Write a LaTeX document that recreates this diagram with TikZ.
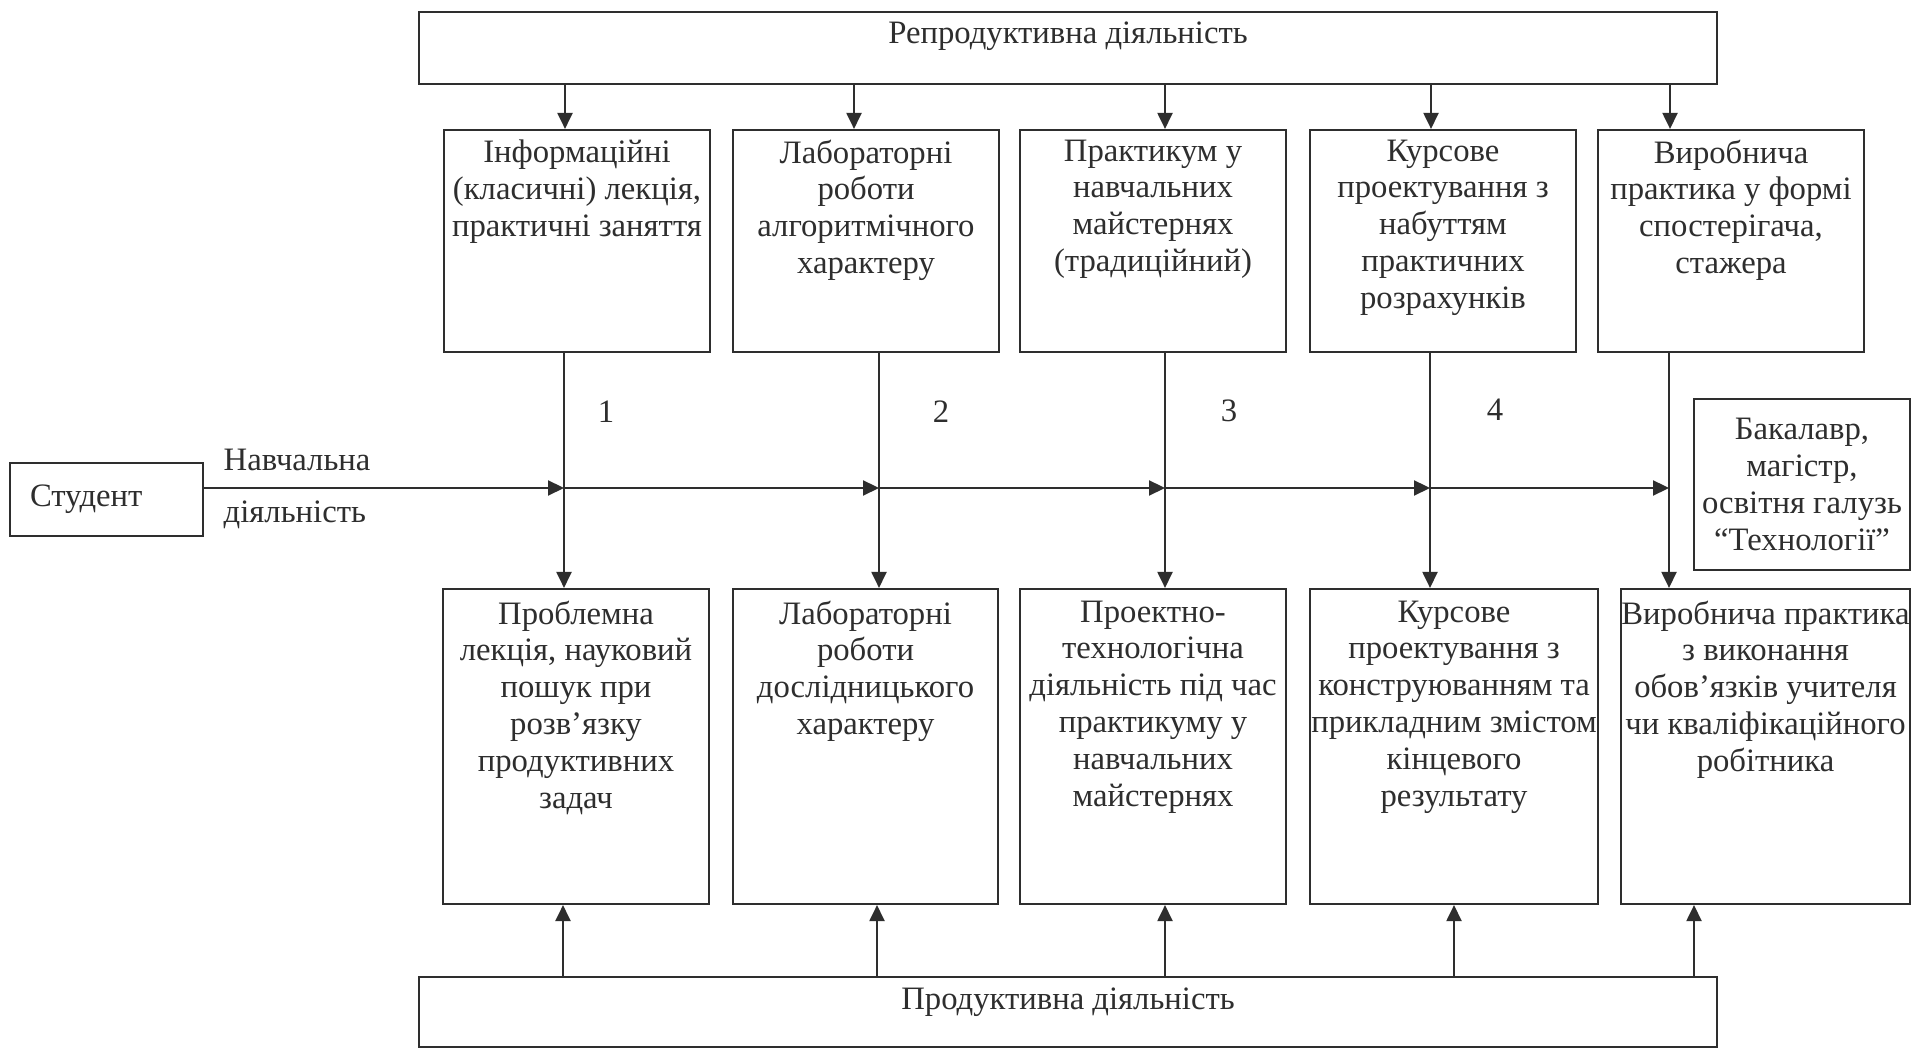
\documentclass[tikz,border=0pt]{standalone}
\usepackage{fontspec}
\setmainfont{Liberation Serif}
\usetikzlibrary{arrows.meta}
\definecolor{ink}{HTML}{2E2E2E}

\begin{document}
\begin{tikzpicture}
  [->,>={Triangle[length=0.16cm,width=0.15cm]},font=\fontsize{9.3}{10.5}\selectfont,
   box_style/.style={rectangle,draw=ink,line width=0.6pt,inner sep=0pt,text=ink},
   text_style/.style={anchor=north,align=center,inner sep=0pt,text=ink},
   edge_style/.style={draw=ink,line width=0.6pt}]
  \useasboundingbox (0,0) rectangle (19.12,10.48);
  \fill[white] (0,0) rectangle (19.12,10.48);

  % top and bottom bars
  \node[box_style,minimum width=12.98cm,minimum height=0.72cm] (rep) at (10.68,10.0) {};
  \node[text_style] (rep_t) at ([yshift=-0.1cm]rep.north) {Репродуктивна діяльність};
  \node[box_style,minimum width=12.98cm,minimum height=0.70cm] (prod) at (10.68,0.36) {};
  \node[text_style] (prod_t) at ([yshift=-0.11cm]prod.north) {Продуктивна діяльність};

  % upper row
  \node[box_style,minimum width=2.66cm,minimum height=2.22cm] (u1) at (5.77,8.07) {};
  \node[box_style,minimum width=2.66cm,minimum height=2.22cm] (u2) at (8.66,8.07) {};
  \node[box_style,minimum width=2.66cm,minimum height=2.22cm] (u3) at (11.53,8.07) {};
  \node[box_style,minimum width=2.66cm,minimum height=2.22cm] (u4) at (14.43,8.07) {};
  \node[box_style,minimum width=2.66cm,minimum height=2.22cm] (u5) at (17.31,8.07) {};
  \node[text_style] (u1_t) at ([yshift=-0.1cm]u1.north) {Інформаційні\\(класичні) лекція,\\практичні заняття};
  \node[text_style] (u2_t) at ([yshift=-0.1cm]u2.north) {Лабораторні\\роботи\\алгоритмічного\\характеру};
  \node[text_style] (u3_t) at ([yshift=-0.1cm]u3.north) {Практикум у\\навчальних\\майстернях\\(традиційний)};
  \node[text_style] (u4_t) at ([yshift=-0.1cm]u4.north) {Курсове\\проектування з\\набуттям\\практичних\\розрахунків};
  \node[text_style] (u5_t) at ([yshift=-0.1cm]u5.north) {Виробнича\\практика у формі\\спостерігача,\\стажера};

  % lower row
  \node[box_style,minimum width=2.66cm,minimum height=3.15cm] (l1) at (5.76,3.015) {};
  \node[box_style,minimum width=2.65cm,minimum height=3.15cm] (l2) at (8.655,3.015) {};
  \node[box_style,minimum width=2.66cm,minimum height=3.15cm] (l3) at (11.53,3.015) {};
  \node[box_style,minimum width=2.88cm,minimum height=3.15cm] (l4) at (14.54,3.015) {};
  \node[box_style,minimum width=2.89cm,minimum height=3.15cm] (l5) at (17.655,3.015) {};
  \node[text_style] (l1_t) at ([yshift=-0.12cm]l1.north) {Проблемна\\лекція, науковий\\пошук при\\розв’язку\\продуктивних\\задач};
  \node[text_style] (l2_t) at ([yshift=-0.12cm]l2.north) {Лабораторні\\роботи\\дослідницького\\характеру};
  \node[text_style] (l3_t) at ([yshift=-0.12cm]l3.north) {Проектно-\\технологічна\\діяльність під час\\практикуму у\\навчальних\\майстернях};
  \node[text_style] (l4_t) at ([yshift=-0.12cm]l4.north) {Курсове\\проектування з\\конструюванням та\\прикладним змістом\\кінцевого\\результату};
  \node[text_style] (l5_t) at ([yshift=-0.12cm]l5.north) {Виробнича практика\\з виконання\\обов’язків учителя\\чи кваліфікаційного\\робітника};

  % student and result
  \node[box_style,minimum width=1.93cm,minimum height=0.73cm,text width=1.53cm,align=left] (st) at (1.065,5.485) {Студент};
  \node[box_style,minimum width=2.16cm,minimum height=1.71cm,align=center] (bak) at (18.02,5.635) {Бакалавр,\\магістр,\\освітня галузь\\“Технології”};
  \node[text_style,anchor=west] (nav1) at (2.23,5.88) {Навчальна};
  \node[text_style,anchor=west] (nav2) at (2.23,5.33) {діяльність};
  \node[text_style,anchor=center] (n1) at (6.06,6.36) {1};
  \node[text_style,anchor=center] (n2) at (9.41,6.36) {2};
  \node[text_style,anchor=center] (n3) at (12.29,6.37) {3};
  \node[text_style,anchor=center] (n4) at (14.95,6.38) {4};

  \coordinate (j1) at (5.64,5.60);
  \coordinate (j2) at (8.79,5.60);
  \coordinate (j3) at (11.65,5.60);
  \coordinate (j4) at (14.30,5.60);
  \coordinate (j5) at (16.69,5.60);

  % reproductive -> upper
  \draw[edge_style] (rep.south -| 5.65,0) -- (u1.north -| 5.65,0);
  \draw[edge_style] (rep.south -| 8.54,0) -- (u2.north -| 8.54,0);
  \draw[edge_style] (rep.south -| 11.65,0) -- (u3.north -| 11.65,0);
  \draw[edge_style] (rep.south -| 14.31,0) -- (u4.north -| 14.31,0);
  \draw[edge_style] (rep.south -| 16.70,0) -- (u5.north -| 16.70,0);

  % upper -> lower
  \draw[edge_style] (u1.south -| j1) -- (l1.north -| j1);
  \draw[edge_style] (u2.south -| j2) -- (l2.north -| j2);
  \draw[edge_style] (u3.south -| j3) -- (l3.north -| j3);
  \draw[edge_style] (u4.south -| j4) -- (l4.north -| j4);
  \draw[edge_style] (u5.south -| j5) -- (l5.north -| j5);

  % productive -> lower
  \draw[edge_style] (prod.north -| 5.63,0) -- (l1.south -| 5.63,0);
  \draw[edge_style] (prod.north -| 8.77,0) -- (l2.south -| 8.77,0);
  \draw[edge_style] (prod.north -| 11.65,0) -- (l3.south -| 11.65,0);
  \draw[edge_style] (prod.north -| 14.54,0) -- (l4.south -| 14.54,0);
  \draw[edge_style] (prod.north -| 16.94,0) -- (l5.south -| 16.94,0);

  % learning path
  \draw[edge_style] (st.east |- j1) -- (j1);
  \draw[edge_style] (j1) -- (j2);
  \draw[edge_style] (j2) -- (j3);
  \draw[edge_style] (j3) -- (j4);
  \draw[edge_style] (j4) -- (j5);
\end{tikzpicture}
\end{document}
